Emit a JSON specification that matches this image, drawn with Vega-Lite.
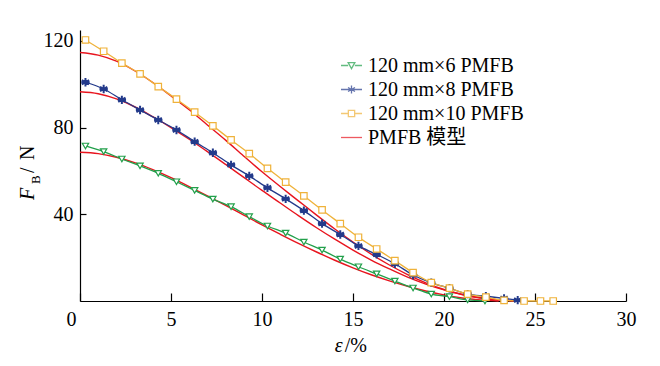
{
  "$schema": "https://vega.github.io/schema/vega-lite/v6.json",
  "width": 546,
  "height": 271,
  "autosize": {"type": "none"},
  "padding": {"left": 80, "top": 30, "right": 34, "bottom": 65},
  "background": "white",
  "config": {
    "view": {"stroke": null},
    "axis": {"grid": false, "domainColor": "black", "domainWidth": 1.2, "tickColor": "black", "tickWidth": 1.2, "labelColor": "black", "labelFont": "Liberation Serif", "labelFontSize": 20, "title": null}
  },
  "datasets": {
    "meas": [
      {"s": "120 mm×6 PMFB", "x": 0.3, "y": 71.5}, {"s": "120 mm×6 PMFB", "x": 1.3, "y": 68.9}, {"s": "120 mm×6 PMFB", "x": 2.3, "y": 65.5}, {"s": "120 mm×6 PMFB", "x": 3.3, "y": 62.3}, {"s": "120 mm×6 PMFB", "x": 4.3, "y": 58.9}, {"s": "120 mm×6 PMFB", "x": 5.3, "y": 55.0}, {"s": "120 mm×6 PMFB", "x": 6.3, "y": 51.0}, {"s": "120 mm×6 PMFB", "x": 7.3, "y": 47.0}, {"s": "120 mm×6 PMFB", "x": 8.3, "y": 43.5}, {"s": "120 mm×6 PMFB", "x": 9.3, "y": 38.9}, {"s": "120 mm×6 PMFB", "x": 10.3, "y": 34.6}, {"s": "120 mm×6 PMFB", "x": 11.3, "y": 31.3}, {"s": "120 mm×6 PMFB", "x": 12.3, "y": 27.2}, {"s": "120 mm×6 PMFB", "x": 13.3, "y": 23.5}, {"s": "120 mm×6 PMFB", "x": 14.3, "y": 19.3}, {"s": "120 mm×6 PMFB", "x": 15.3, "y": 15.8}, {"s": "120 mm×6 PMFB", "x": 16.3, "y": 12.5}, {"s": "120 mm×6 PMFB", "x": 17.3, "y": 9.2}, {"s": "120 mm×6 PMFB", "x": 18.3, "y": 6.0}, {"s": "120 mm×6 PMFB", "x": 19.3, "y": 3.2}, {"s": "120 mm×6 PMFB", "x": 20.3, "y": 2.0}, {"s": "120 mm×6 PMFB", "x": 21.3, "y": 0.5}, {"s": "120 mm×6 PMFB", "x": 22.25, "y": 0},
      {"s": "120 mm×8 PMFB", "x": 0.3, "y": 100.9}, {"s": "120 mm×8 PMFB", "x": 1.3, "y": 97.8}, {"s": "120 mm×8 PMFB", "x": 2.3, "y": 92.8}, {"s": "120 mm×8 PMFB", "x": 3.3, "y": 88.1}, {"s": "120 mm×8 PMFB", "x": 4.3, "y": 83.5}, {"s": "120 mm×8 PMFB", "x": 5.3, "y": 78.9}, {"s": "120 mm×8 PMFB", "x": 6.3, "y": 73.5}, {"s": "120 mm×8 PMFB", "x": 7.3, "y": 68.4}, {"s": "120 mm×8 PMFB", "x": 8.3, "y": 62.8}, {"s": "120 mm×8 PMFB", "x": 9.3, "y": 57.7}, {"s": "120 mm×8 PMFB", "x": 10.3, "y": 52.2}, {"s": "120 mm×8 PMFB", "x": 11.3, "y": 47.1}, {"s": "120 mm×8 PMFB", "x": 12.3, "y": 41.7}, {"s": "120 mm×8 PMFB", "x": 13.3, "y": 35.7}, {"s": "120 mm×8 PMFB", "x": 14.3, "y": 30.7}, {"s": "120 mm×8 PMFB", "x": 15.3, "y": 25.4}, {"s": "120 mm×8 PMFB", "x": 16.3, "y": 21.5}, {"s": "120 mm×8 PMFB", "x": 17.3, "y": 17.2}, {"s": "120 mm×8 PMFB", "x": 18.3, "y": 12.0}, {"s": "120 mm×8 PMFB", "x": 19.3, "y": 8.4}, {"s": "120 mm×8 PMFB", "x": 20.3, "y": 5.9}, {"s": "120 mm×8 PMFB", "x": 21.3, "y": 3.2}, {"s": "120 mm×8 PMFB", "x": 22.3, "y": 2.2}, {"s": "120 mm×8 PMFB", "x": 23.3, "y": 1.2}, {"s": "120 mm×8 PMFB", "x": 24.05, "y": 0.4},
      {"s": "120 mm×10 PMFB", "x": 0.3, "y": 120.4}, {"s": "120 mm×10 PMFB", "x": 1.3, "y": 115.2}, {"s": "120 mm×10 PMFB", "x": 2.3, "y": 109.7}, {"s": "120 mm×10 PMFB", "x": 3.3, "y": 104.8}, {"s": "120 mm×10 PMFB", "x": 4.3, "y": 98.9}, {"s": "120 mm×10 PMFB", "x": 5.3, "y": 93.1}, {"s": "120 mm×10 PMFB", "x": 6.3, "y": 87.1}, {"s": "120 mm×10 PMFB", "x": 7.3, "y": 80.8}, {"s": "120 mm×10 PMFB", "x": 8.3, "y": 74.3}, {"s": "120 mm×10 PMFB", "x": 9.3, "y": 68.0}, {"s": "120 mm×10 PMFB", "x": 10.3, "y": 61.2}, {"s": "120 mm×10 PMFB", "x": 11.3, "y": 54.8}, {"s": "120 mm×10 PMFB", "x": 12.3, "y": 48.5}, {"s": "120 mm×10 PMFB", "x": 13.3, "y": 42.0}, {"s": "120 mm×10 PMFB", "x": 14.3, "y": 35.7}, {"s": "120 mm×10 PMFB", "x": 15.3, "y": 29.4}, {"s": "120 mm×10 PMFB", "x": 16.3, "y": 24.0}, {"s": "120 mm×10 PMFB", "x": 17.3, "y": 18.6}, {"s": "120 mm×10 PMFB", "x": 18.3, "y": 13.1}, {"s": "120 mm×10 PMFB", "x": 19.3, "y": 8.5}, {"s": "120 mm×10 PMFB", "x": 20.3, "y": 5.9}, {"s": "120 mm×10 PMFB", "x": 21.3, "y": 3.2}, {"s": "120 mm×10 PMFB", "x": 22.3, "y": 1.8}, {"s": "120 mm×10 PMFB", "x": 23.3, "y": 0.3}, {"s": "120 mm×10 PMFB", "x": 24.4, "y": 0}, {"s": "120 mm×10 PMFB", "x": 25.3, "y": 0}, {"s": "120 mm×10 PMFB", "x": 26.0, "y": 0}
    ],
    "model": [
      {"s": "PMFB 模型", "c": 6, "x": 0, "y": 68.6}, {"s": "PMFB 模型", "c": 6, "x": 1, "y": 68.0}, {"s": "PMFB 模型", "c": 6, "x": 2, "y": 66.3}, {"s": "PMFB 模型", "c": 6, "x": 3, "y": 63.8}, {"s": "PMFB 模型", "c": 6, "x": 4, "y": 60.6}, {"s": "PMFB 模型", "c": 6, "x": 5, "y": 56.9}, {"s": "PMFB 模型", "c": 6, "x": 6, "y": 52.8}, {"s": "PMFB 模型", "c": 6, "x": 7, "y": 48.5}, {"s": "PMFB 模型", "c": 6, "x": 8, "y": 44.1}, {"s": "PMFB 模型", "c": 6, "x": 9, "y": 39.6}, {"s": "PMFB 模型", "c": 6, "x": 10, "y": 35.1}, {"s": "PMFB 模型", "c": 6, "x": 11, "y": 30.8}, {"s": "PMFB 模型", "c": 6, "x": 12, "y": 26.6}, {"s": "PMFB 模型", "c": 6, "x": 13, "y": 22.6}, {"s": "PMFB 模型", "c": 6, "x": 14, "y": 18.8}, {"s": "PMFB 模型", "c": 6, "x": 15, "y": 15.3}, {"s": "PMFB 模型", "c": 6, "x": 16, "y": 12.1}, {"s": "PMFB 模型", "c": 6, "x": 17, "y": 9.3}, {"s": "PMFB 模型", "c": 6, "x": 18, "y": 6.8}, {"s": "PMFB 模型", "c": 6, "x": 19, "y": 4.6}, {"s": "PMFB 模型", "c": 6, "x": 20, "y": 2.8}, {"s": "PMFB 模型", "c": 6, "x": 21, "y": 1.4}, {"s": "PMFB 模型", "c": 6, "x": 22, "y": 0.5}, {"s": "PMFB 模型", "c": 6, "x": 23, "y": 0},
      {"s": "PMFB 模型", "c": 8, "x": 0, "y": 96.5}, {"s": "PMFB 模型", "c": 8, "x": 1, "y": 95.6}, {"s": "PMFB 模型", "c": 8, "x": 2, "y": 93.2}, {"s": "PMFB 模型", "c": 8, "x": 3, "y": 89.6}, {"s": "PMFB 模型", "c": 8, "x": 4, "y": 85.0}, {"s": "PMFB 模型", "c": 8, "x": 5, "y": 80.0}, {"s": "PMFB 模型", "c": 8, "x": 6, "y": 74.6}, {"s": "PMFB 模型", "c": 8, "x": 7, "y": 68.9}, {"s": "PMFB 模型", "c": 8, "x": 8, "y": 63.0}, {"s": "PMFB 模型", "c": 8, "x": 9, "y": 57.0}, {"s": "PMFB 模型", "c": 8, "x": 10, "y": 51.0}, {"s": "PMFB 模型", "c": 8, "x": 11, "y": 45.2}, {"s": "PMFB 模型", "c": 8, "x": 12, "y": 39.4}, {"s": "PMFB 模型", "c": 8, "x": 13, "y": 33.8}, {"s": "PMFB 模型", "c": 8, "x": 14, "y": 28.5}, {"s": "PMFB 模型", "c": 8, "x": 15, "y": 23.5}, {"s": "PMFB 模型", "c": 8, "x": 16, "y": 18.9}, {"s": "PMFB 模型", "c": 8, "x": 17, "y": 14.8}, {"s": "PMFB 模型", "c": 8, "x": 18, "y": 11.0}, {"s": "PMFB 模型", "c": 8, "x": 19, "y": 7.8}, {"s": "PMFB 模型", "c": 8, "x": 20, "y": 5.1}, {"s": "PMFB 模型", "c": 8, "x": 21, "y": 3.0}, {"s": "PMFB 模型", "c": 8, "x": 22, "y": 1.5}, {"s": "PMFB 模型", "c": 8, "x": 23, "y": 0.5}, {"s": "PMFB 模型", "c": 8, "x": 24, "y": 0.1}, {"s": "PMFB 模型", "c": 8, "x": 24.5, "y": 0},
      {"s": "PMFB 模型", "c": 10, "x": 0, "y": 114.6}, {"s": "PMFB 模型", "c": 10, "x": 1, "y": 113.4}, {"s": "PMFB 模型", "c": 10, "x": 2, "y": 110.6}, {"s": "PMFB 模型", "c": 10, "x": 3, "y": 106.2}, {"s": "PMFB 模型", "c": 10, "x": 4, "y": 100.8}, {"s": "PMFB 模型", "c": 10, "x": 5, "y": 94.6}, {"s": "PMFB 模型", "c": 10, "x": 6, "y": 88.2}, {"s": "PMFB 模型", "c": 10, "x": 7, "y": 81.2}, {"s": "PMFB 模型", "c": 10, "x": 8, "y": 74.2}, {"s": "PMFB 模型", "c": 10, "x": 9, "y": 66.8}, {"s": "PMFB 模型", "c": 10, "x": 10, "y": 59.6}, {"s": "PMFB 模型", "c": 10, "x": 11, "y": 52.8}, {"s": "PMFB 模型", "c": 10, "x": 12, "y": 46.2}, {"s": "PMFB 模型", "c": 10, "x": 13, "y": 39.6}, {"s": "PMFB 模型", "c": 10, "x": 14, "y": 33.2}, {"s": "PMFB 模型", "c": 10, "x": 15, "y": 27.2}, {"s": "PMFB 模型", "c": 10, "x": 16, "y": 21.6}, {"s": "PMFB 模型", "c": 10, "x": 17, "y": 16.6}, {"s": "PMFB 模型", "c": 10, "x": 18, "y": 12.2}, {"s": "PMFB 模型", "c": 10, "x": 19, "y": 8.4}, {"s": "PMFB 模型", "c": 10, "x": 20, "y": 5.3}, {"s": "PMFB 模型", "c": 10, "x": 21, "y": 3.0}, {"s": "PMFB 模型", "c": 10, "x": 22, "y": 1.4}, {"s": "PMFB 模型", "c": 10, "x": 23, "y": 0.5}, {"s": "PMFB 模型", "c": 10, "x": 24, "y": 0.1}, {"s": "PMFB 模型", "c": 10, "x": 24.5, "y": 0}
    ]
  },
  "layer": [
    {
      "data": {"name": "model"},
      "mark": {"type": "line", "interpolate": "monotone", "strokeWidth": 1.4},
      "encoding": {
        "x": {"field": "x", "type": "quantitative", "scale": {"domain": [0, 30], "nice": false}, "axis": {"values": [0, 5, 10, 15, 20, 25, 30], "tickSize": -8, "labelPadding": 16, "labelFlush": false, "labelOffset": {"condition": {"test": "datum.value === 0", "value": -9}, "value": 0}}},
        "y": {"field": "y", "type": "quantitative", "scale": {"domain": [0, 125], "nice": false}, "axis": {"values": [40, 80, 120], "tickSize": -6, "labelPadding": 13}},
        "detail": {"field": "c", "type": "nominal"},
        "color": {"field": "s", "type": "nominal", "scale": {"domain": ["120 mm×6 PMFB", "120 mm×8 PMFB", "120 mm×10 PMFB", "PMFB 模型"], "range": ["#22a04b", "#233a8b", "#efb23a", "#e8141e"]}}
      }
    },
    {
      "data": {"name": "meas"},
      "mark": {"type": "line", "interpolate": "monotone", "strokeWidth": 1.3},
      "encoding": {
        "x": {"field": "x", "type": "quantitative"},
        "y": {"field": "y", "type": "quantitative"},
        "color": {"field": "s", "type": "nominal", "scale": {"domain": ["120 mm×6 PMFB", "120 mm×8 PMFB", "120 mm×10 PMFB", "PMFB 模型"], "range": ["#22a04b", "#233a8b", "#efb23a", "#e8141e"]}}
      }
    },
    {
      "data": {"name": "meas"},
      "transform": [{"filter": "datum.s === '120 mm×6 PMFB'"}],
      "mark": {"type": "point", "shape": "triangle-down", "size": 40, "filled": false, "stroke": "#22a04b", "strokeWidth": 1.2, "fill": "white", "fillOpacity": 1, "opacity": 1},
      "encoding": {"x": {"field": "x", "type": "quantitative"}, "y": {"field": "y", "type": "quantitative"}}
    },
    {
      "data": {"name": "meas"},
      "transform": [{"filter": "datum.s === '120 mm×8 PMFB'"}],
      "mark": {"type": "point", "shape": "M0,-1V1M-0.87,-0.5L0.87,0.5M-0.87,0.5L0.87,-0.5M-1,0H1", "size": 70, "filled": false, "stroke": "#233a8b", "strokeWidth": 2, "opacity": 1},
      "encoding": {"x": {"field": "x", "type": "quantitative"}, "y": {"field": "y", "type": "quantitative"}}
    },
    {
      "data": {"name": "meas"},
      "transform": [{"filter": "datum.s === '120 mm×10 PMFB'"}],
      "mark": {"type": "point", "shape": "square", "size": 42, "filled": false, "stroke": "#efb23a", "strokeWidth": 1.2, "fill": "white", "fillOpacity": 1, "opacity": 1},
      "encoding": {"x": {"field": "x", "type": "quantitative"}, "y": {"field": "y", "type": "quantitative"}}
    },
    {
      "data": {"values": []},
      "mark": {"type": "point", "filled": false, "strokeWidth": 1.3},
      "encoding": {
        "color": {"field": "s", "type": "nominal", "scale": {"domain": ["120 mm×6 PMFB", "120 mm×8 PMFB", "120 mm×10 PMFB", "PMFB 模型"], "range": ["#22a04b", "#233a8b", "#efb23a", "#e8141e"]},
          "legend": {"title": null, "orient": "none", "legendX": 260, "legendY": 24, "padding": 0, "symbolSize": 441, "symbolStrokeWidth": 1.3, "labelFont": "Liberation Serif, Noto Sans CJK SC", "labelFontSize": 20, "labelColor": "black", "labelOffset": 5, "rowPadding": 2}},
        "shape": {"field": "s", "type": "nominal", "scale": {"domain": ["120 mm×6 PMFB", "120 mm×8 PMFB", "120 mm×10 PMFB", "PMFB 模型"], "range": ["M-1,0H-0.32M0.32,0H1M-0.32,-0.28H0.32L0,0.3Z", "M-1,0H1M0,-0.38V0.38M-0.33,-0.19L0.33,0.19M-0.33,0.19L0.33,-0.19", "M-1,0H-0.3M0.3,0H1M-0.3,-0.3H0.3V0.3H-0.3Z", "M-1,0H1"]},
          "legend": {"title": null, "orient": "none", "legendX": 260, "legendY": 24, "padding": 0, "symbolSize": 441, "symbolStrokeWidth": 1.3, "labelFont": "Liberation Serif, Noto Sans CJK SC", "labelFontSize": 20, "labelColor": "black", "labelOffset": 5, "rowPadding": 2}}
      }
    },
    {
      "data": {"values": [{"part": "F"}]},
      "mark": {"type": "text", "font": "Liberation Serif", "fontSize": 20, "fontStyle": "italic", "angle": 270, "align": "left", "baseline": "alphabetic", "color": "black", "clip": false},
      "encoding": {"text": {"field": "part"}, "x": {"datum": -2.55, "type": "quantitative"}, "y": {"datum": 46.6, "type": "quantitative"}}
    },
    {
      "data": {"values": [{"part": "B"}]},
      "mark": {"type": "text", "font": "Liberation Serif", "fontSize": 13, "angle": 270, "align": "left", "baseline": "alphabetic", "dx": 16, "dy": 6, "color": "black", "clip": false},
      "encoding": {"text": {"field": "part"}, "x": {"datum": -2.55, "type": "quantitative"}, "y": {"datum": 46.6, "type": "quantitative"}}
    },
    {
      "data": {"values": [{"part": "/"}]},
      "mark": {"type": "text", "font": "Liberation Serif", "fontSize": 20, "angle": 270, "align": "left", "baseline": "alphabetic", "dx": 27, "color": "black", "clip": false},
      "encoding": {"text": {"field": "part"}, "x": {"datum": -2.55, "type": "quantitative"}, "y": {"datum": 46.6, "type": "quantitative"}}
    },
    {
      "data": {"values": [{"part": "N"}]},
      "mark": {"type": "text", "font": "Liberation Serif", "fontSize": 20, "angle": 270, "align": "left", "baseline": "alphabetic", "dx": 40, "color": "black", "clip": false},
      "encoding": {"text": {"field": "part"}, "x": {"datum": -2.55, "type": "quantitative"}, "y": {"datum": 46.6, "type": "quantitative"}}
    },
    {
      "data": {"values": [{"part": "ε"}]},
      "mark": {"type": "text", "font": "Liberation Serif", "fontSize": 20, "fontStyle": "italic", "align": "left", "baseline": "alphabetic", "color": "black", "clip": false},
      "encoding": {"text": {"field": "part"}, "x": {"datum": 14.0, "type": "quantitative"}, "y": {"datum": -23.5, "type": "quantitative"}}
    },
    {
      "data": {"values": [{"part": "/%"}]},
      "mark": {"type": "text", "font": "Liberation Serif", "fontSize": 20, "align": "left", "baseline": "alphabetic", "color": "black", "clip": false},
      "encoding": {"text": {"field": "part"}, "x": {"datum": 14.55, "type": "quantitative"}, "y": {"datum": -23.5, "type": "quantitative"}}
    }
  ]
}
